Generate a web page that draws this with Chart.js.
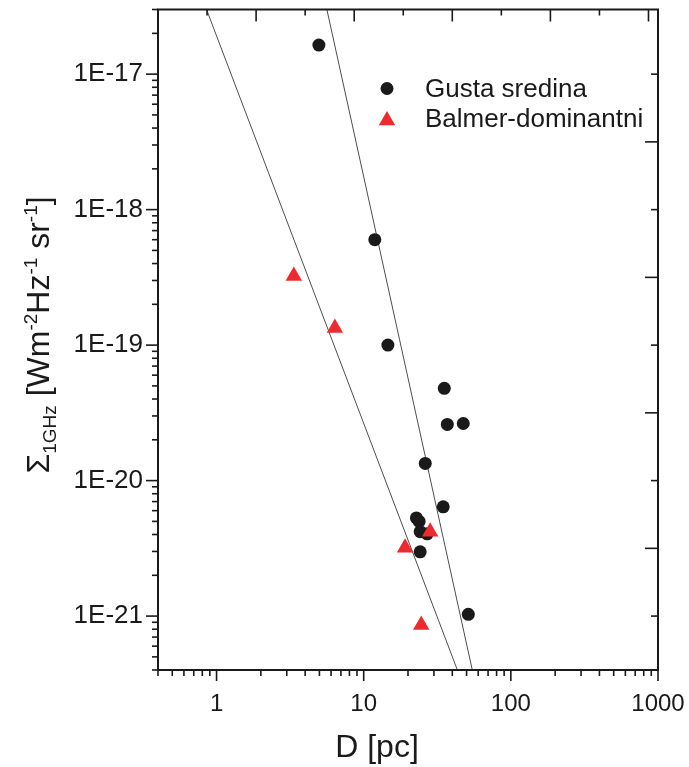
<!DOCTYPE html>
<html><head><meta charset="utf-8">
<script src="https://cdn.jsdelivr.net/npm/chart.js@4/dist/chart.umd.min.js"></script>
<style>html,body{margin:0;padding:0;background:#fff}#wrap{width:689px;height:767px}</style>
</head><body><div id="wrap"><canvas id="c" width="689" height="767"></canvas></div>
<script>
// ---- data ----
const seriesNames = ['Gusta sredina', 'Balmer-dominantni'];
const denseD = [4.96, 11.9, 14.6, 35.3, 37.0, 47.5, 26.2, 34.7, 22.8, 23.8, 24.2, 27.0, 24.2, 51.4];
const denseS = [1.64e-17, 6.0e-19, 1.0e-19, 4.8e-20, 2.6e-20, 2.64e-20, 1.34e-20, 6.4e-21, 5.3e-21, 5.0e-21, 4.2e-21, 4.05e-21, 2.98e-21, 1.03e-21];
const balmerD = [3.35, 6.37, 28.3, 19.1, 24.6];
const balmerS = [3.24e-19, 1.34e-19, 4.2e-21, 3.19e-21, 8.6e-22];
const fitDenseD = [5.62, 54.7];
const fitDenseS = [3e-17, 4e-22];
const fitBalmerD = [0.855, 43.3];
const fitBalmerS = [3e-17, 4e-22];
const xTickValues = [1, 10, 100, 1000];
const xTickLabels = ['1', '10', '100', '1000'];
const yTickValues = [1e-21, 1e-20, 1e-19, 1e-18, 1e-17];
const yTickLabels = ['1E-21', '1E-20', '1E-19', '1E-18', '1E-17'];
const xRange = [0.4, 1000];
const yRange = [4e-22, 3e-17];

const FONT = "'Liberation Sans', Arial, sans-serif";
const INK = '#1a1a1a';
const RED = '#ec2a2f';

const pts = (xs, ys) => xs.map((x, i) => ({x, y: ys[i]}));

const framePlugin = {
  id: 'frame',
  afterDraw(chart) {
    const ctx = chart.ctx, a = chart.chartArea;
    const xs = chart.scales.x, ys = chart.scales.y;
    ctx.save();
    ctx.strokeStyle = INK;
    ctx.lineWidth = 2;
    ctx.strokeRect(a.left, a.top, a.right - a.left, a.bottom - a.top);
    ctx.lineWidth = 1.6;
    const line = (x1, y1, x2, y2) => { ctx.beginPath(); ctx.moveTo(x1, y1); ctx.lineTo(x2, y2); ctx.stroke(); };
    for (let d = -2; d <= 4; d++) {
      for (let m = 1; m <= 9; m++) {
        const v = m * Math.pow(10, d);
        if (v >= xRange[0] * 0.999 && v <= xRange[1] * 1.001) {
          const px = xs.getPixelForValue(v);
          line(px, a.bottom, px, a.bottom + (m === 1 ? 11 : 6));
        }
      }
    }
    for (let d = -23; d <= -15; d++) {
      for (let m = 1; m <= 9; m++) {
        const v = m * Math.pow(10, d);
        if (v >= yRange[0] * 0.999 && v <= yRange[1] * 1.001) {
          const py = ys.getPixelForValue(v);
          line(a.left, py, a.left - (m === 1 ? 12 : 6), py);
        }
      }
    }
    const l0 = Math.log10(xRange[0]), l1 = Math.log10(xRange[1]);
    for (let k = 0; l0 + k / 3 <= l1 + 1e-9; k++) {
      const px = xs.getPixelForValue(Math.pow(10, l0 + k / 3));
      line(px, a.top, px, a.top + (k % 2 === 0 ? 12 : 6));
    }
    for (let h = -44; h <= -32; h++) {
      const v = Math.pow(10, h / 2);
      if (v >= yRange[0] && v <= yRange[1]) {
        const py = ys.getPixelForValue(v);
        line(a.right, py, a.right - (h % 2 === 0 ? 7 : 13), py);
      }
    }
    // legend
    ctx.fillStyle = INK;
    ctx.font = '26px ' + FONT;
    ctx.textBaseline = 'middle';
    ctx.textAlign = 'left';
    const lx = a.left + 229, ly = a.top + 79, gap = 30;
    ctx.beginPath(); ctx.arc(lx, ly, 6.5, 0, Math.PI * 2); ctx.fill();
    ctx.fillText(seriesNames[0], lx + 38, ly + 1);
    ctx.fillStyle = RED;
    const r = 9.5, ty = ly + gap + 2;
    ctx.beginPath();
    ctx.moveTo(lx, ty - r);
    ctx.lineTo(lx + r * 0.866, ty + r * 0.5);
    ctx.lineTo(lx - r * 0.866, ty + r * 0.5);
    ctx.closePath(); ctx.fill();
    ctx.fillStyle = INK;
    ctx.fillText(seriesNames[1], lx + 38, ly + gap + 1);
    // x title
    ctx.font = '32px ' + FONT;
    ctx.textAlign = 'center';
    ctx.fillText('D [pc]', 377, 748);
    // y title with sub/superscripts
    const big = 32, small = 19;
    const segs = [
      ['\u03A3', big, 0], ['1GHz', small, 7], [' [Wm', big, 0], ['-2', small, -12],
      ['Hz', big, 0], ['-1', small, -12], [' sr', big, 0], ['-1', small, -12], [']', big, 0]
    ];
    let total = 0;
    segs.forEach(s => { ctx.font = s[1] + 'px ' + FONT; total += ctx.measureText(s[0]).width; });
    ctx.translate(49, 335);
    ctx.rotate(-Math.PI / 2);
    ctx.textAlign = 'left';
    ctx.textBaseline = 'alphabetic';
    let cx = -total / 2;
    segs.forEach(s => {
      ctx.font = s[1] + 'px ' + FONT;
      ctx.fillText(s[0], cx, s[2]);
      cx += ctx.measureText(s[0]).width;
    });
    ctx.restore();
  }
};

new Chart(document.getElementById('c'), {
  type: 'scatter',
  data: {
    datasets: [
      { label: seriesNames[0], data: pts(denseD, denseS), pointStyle: 'circle', pointRadius: 6.5,
        pointHoverRadius: 6.5, backgroundColor: INK, borderWidth: 0, order: 1 },
      { label: seriesNames[1], data: pts(balmerD, balmerS), pointStyle: 'triangle', pointRadius: 9.5,
        pointHoverRadius: 9.5, backgroundColor: RED, borderWidth: 0, order: 0 },
      { type: 'line', label: 'fit1', data: pts(fitDenseD, fitDenseS), showLine: true, pointRadius: 0,
        borderColor: '#3a3a3a', borderWidth: 0.9, fill: false, order: 2 },
      { type: 'line', label: 'fit2', data: pts(fitBalmerD, fitBalmerS), showLine: true, pointRadius: 0,
        borderColor: '#3a3a3a', borderWidth: 0.9, fill: false, order: 2 }
    ]
  },
  options: {
    responsive: false,
    animation: false,
    events: [],
    layout: { padding: { top: 8, right: 31, left: 0, bottom: 0 } },
    plugins: { legend: { display: false }, tooltip: { enabled: false } },
    scales: {
      x: {
        type: 'logarithmic', position: 'bottom', min: xRange[0], max: xRange[1],
        grid: { display: false, drawTicks: false }, border: { display: false },
        afterBuildTicks: s => { s.ticks = xTickValues.map(v => ({value: v})); },
        afterFit: s => { s.height = 97; s.paddingLeft = 0; s.paddingRight = 0; },
        ticks: { autoSkip: false, maxRotation: 0, padding: 20, color: INK,
          font: { family: FONT, size: 24 },
          callback: (v, i) => xTickLabels[i] }
      },
      y: {
        type: 'logarithmic', position: 'left', min: yRange[0], max: yRange[1],
        grid: { display: false, drawTicks: false }, border: { display: false },
        afterBuildTicks: s => { s.ticks = yTickValues.map(v => ({value: v})); },
        afterFit: s => { s.width = 158; s.paddingTop = 0; s.paddingBottom = 0; },
        ticks: { autoSkip: false, padding: 15, color: INK,
          font: { family: FONT, size: 26 },
          callback: (v, i) => yTickLabels[i] }
      }
    }
  },
  plugins: [framePlugin]
});
</script>
</body></html>
